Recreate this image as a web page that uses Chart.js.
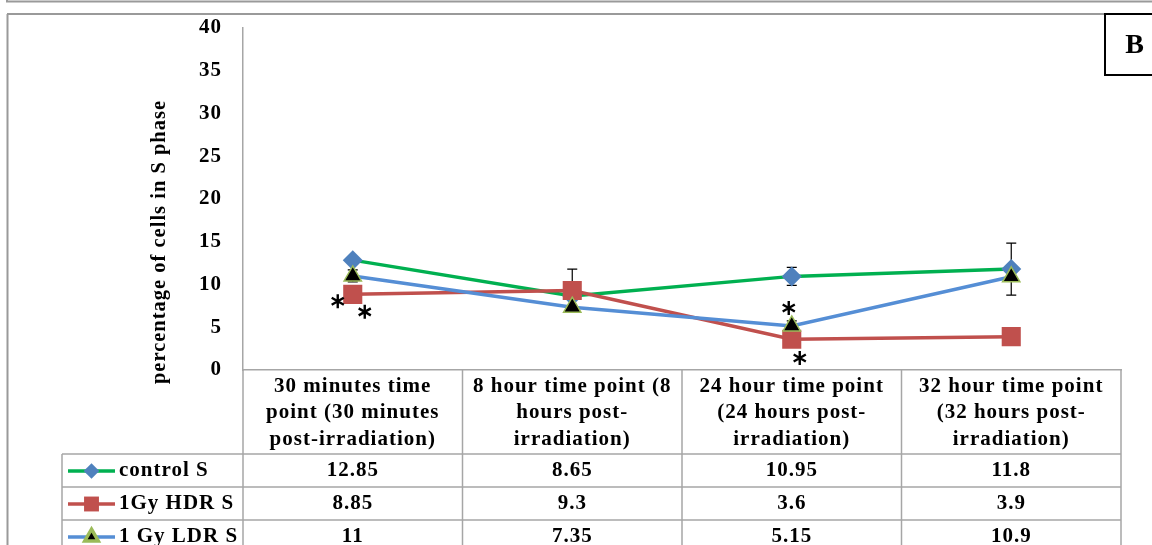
<!DOCTYPE html>
<html>
<head>
<meta charset="utf-8">
<script src="https://cdn.jsdelivr.net/npm/chart.js@4/dist/chart.umd.min.js"></script>
<style>
  html, body { margin: 0; padding: 0; background: #ffffff; }
  canvas { display: block; }
</style>
</head>
<body>
<canvas id="chart" width="1152" height="545"></canvas>
<script>
// Time points (multi-line category labels)
const categories = [
  ['30 minutes time', 'point (30 minutes', 'post-irradiation)'],
  ['8 hour time point (8', 'hours post-', 'irradiation)'],
  ['24 hour time point', '(24 hours post-', 'irradiation)'],
  ['32 hour time point', '(32 hours post-', 'irradiation)']
];

// Series names and values (% of cells in S phase)
const seriesNames = ['control S', '1Gy HDR S', '1 Gy LDR S'];
const controlS = [12.85, 8.65, 10.95, 11.8];
const hdrS = [8.85, 9.3, 3.6, 3.9];
const ldrS = [11, 7.35, 5.15, 10.9];

// Error bar half-widths (0 = none shown)
const controlErr = [0, 0, 1.05, 3.05];
const hdrErr = [0, 2.5, 0, 0];
const ldrErr = [0.7, 0, 0.6, 0];

// Y axis range
const yMin = 0;
const yMax = 40;
const yStep = 5;

// Significance asterisks: category index, value level, horizontal nudge
const sigCats = [0, 0, 2, 2];
const sigValues = [8.05, 6.8, 7.25, 1.4];
const sigNudge = [-15, 12, -3, 8];

const yTitle = 'percentage of cells in S phase';
const panelLabel = 'B';

const SERIF = '"Liberation Serif", "Times New Roman", serif';
const GRID = '#a6a6a6';
const SPACING = '1px';

const seriesStyle = [
  { line: '#00b050', fill: '#4f81bd', border: '#4f81bd', shape: 'rectRot', r: 10, bw: 0 },
  { line: '#c0504d', fill: '#c0504d', border: '#c0504d', shape: 'rect', r: 13.5, bw: 0 },
  { line: '#558ed5', fill: '#000000', border: '#9bbb59', shape: 'triangle', r: 10, bw: 1.5 }
];
const seriesValues = [controlS, hdrS, ldrS];
const seriesErrors = [controlErr, hdrErr, ldrErr];

const datasets = seriesNames.map((name, i) => ({
  label: name,
  data: seriesValues[i],
  errors: seriesErrors[i],
  borderColor: seriesStyle[i].line,
  backgroundColor: seriesStyle[i].fill,
  borderWidth: 3.5,
  tension: 0,
  pointStyle: seriesStyle[i].shape,
  pointRadius: seriesStyle[i].r,
  pointHoverRadius: seriesStyle[i].r,
  pointBackgroundColor: seriesStyle[i].fill,
  pointBorderColor: seriesStyle[i].border,
  pointBorderWidth: seriesStyle[i].bw,
  order: seriesNames.length - i
}));

// Slightly tracked text, as in the printed figure
const tracking = {
  id: 'tracking',
  beforeDraw(chart) { chart.ctx.letterSpacing = SPACING; }
};

// Error bars, drawn under the markers
const errorBars = {
  id: 'errorBars',
  beforeDatasetsDraw(chart) {
    const { ctx, scales: { x, y } } = chart;
    ctx.save();
    ctx.strokeStyle = '#000000';
    ctx.lineWidth = 1.2;
    chart.data.datasets.forEach(ds => {
      ds.data.forEach((v, j) => {
        const e = ds.errors[j];
        if (!e) return;
        const px = x.getPixelForValue(j);
        const top = y.getPixelForValue(v + e);
        const bot = y.getPixelForValue(v - e);
        ctx.beginPath();
        ctx.moveTo(px, top); ctx.lineTo(px, bot);
        ctx.moveTo(px - 5, top); ctx.lineTo(px + 5, top);
        ctx.moveTo(px - 5, bot); ctx.lineTo(px + 5, bot);
        ctx.stroke();
      });
    });
    ctx.restore();
  }
};

function drawMarker(ctx, style, cx, cy, scale) {
  Chart.helpers.drawPoint(ctx, {
    pointStyle: style.shape,
    radius: style.r * scale,
    borderWidth: style.bw
  }, cx, cy);
}

// Frame, title, asterisks, panel letter and the data table
const decorations = {
  id: 'decorations',
  afterDraw(chart) {
    const { ctx, chartArea, scales: { x, y } } = chart;
    ctx.save();
    ctx.letterSpacing = SPACING;

    // panel frame
    ctx.strokeStyle = '#9a9a9a';
    ctx.lineWidth = 2;
    ctx.beginPath();
    ctx.moveTo(7, 1.5); ctx.lineTo(1152, 1.5);
    ctx.moveTo(7, 0); ctx.lineTo(7, 2.5);
    ctx.moveTo(7, 14); ctx.lineTo(1152, 14);
    ctx.moveTo(7.5, 14); ctx.lineTo(7.5, 545);
    ctx.stroke();

    // panel letter box
    ctx.fillStyle = '#ffffff';
    ctx.fillRect(1104, 13, 60, 62);
    ctx.strokeStyle = '#000000';
    ctx.lineWidth = 2;
    ctx.strokeRect(1105, 14, 60, 61);
    ctx.fillStyle = '#000000';
    ctx.font = 'bold 28px ' + SERIF;
    ctx.textAlign = 'center';
    ctx.textBaseline = 'middle';
    ctx.fillText(panelLabel, 1135, 46);

    // y axis title
    ctx.save();
    ctx.translate(160, 242);
    ctx.rotate(-Math.PI / 2);
    ctx.font = 'bold 20.5px ' + SERIF;
    ctx.fillText(yTitle, 0, 0);
    ctx.restore();

    // significance asterisks
    ctx.strokeStyle = '#000000';
    ctx.lineWidth = 2.4;
    sigCats.forEach((c, k) => {
      const cx = x.getPixelForValue(c) + sigNudge[k];
      const cy = y.getPixelForValue(sigValues[k]);
      ctx.beginPath();
      for (let a = 0; a < 3; a++) {
        const ang = Math.PI / 2 + a * Math.PI / 3;
        const dx = Math.cos(ang) * 7, dy = Math.sin(ang) * 7;
        ctx.moveTo(cx - dx, cy - dy); ctx.lineTo(cx + dx, cy + dy);
      }
      ctx.stroke();
    });

    // data table grid
    const colW = (chartArea.right - chartArea.left) / categories.length;
    const tableLeft = 62;
    const headBottom = 454;
    const rowH = 33;
    ctx.strokeStyle = GRID;
    ctx.lineWidth = 1.5;
    ctx.beginPath();
    for (let k = 0; k <= categories.length; k++) {
      const gx = chartArea.left + k * colW;
      ctx.moveTo(gx, chartArea.bottom); ctx.lineTo(gx, 545);
    }
    ctx.moveTo(tableLeft, headBottom); ctx.lineTo(tableLeft, 545);
    for (let r = 0; r < seriesNames.length; r++) {
      const gy = headBottom + r * rowH;
      ctx.moveTo(tableLeft, gy); ctx.lineTo(chartArea.right, gy);
    }
    ctx.stroke();

    // table rows: legend key, name and values
    ctx.textBaseline = 'middle';
    seriesNames.forEach((name, i) => {
      const cy = headBottom + i * rowH + rowH / 2 + 0.5;
      const st = seriesStyle[i];
      ctx.strokeStyle = st.line;
      ctx.lineWidth = 3.5;
      ctx.beginPath();
      ctx.moveTo(68, cy); ctx.lineTo(115, cy);
      ctx.stroke();
      ctx.fillStyle = st.fill;
      ctx.strokeStyle = st.border;
      drawMarker(ctx, st, 91.5, cy, 0.78);
      ctx.fillStyle = '#000000';
      ctx.font = 'bold 21px ' + SERIF;
      ctx.textAlign = 'left';
      ctx.fillText(name, 119, cy);
      ctx.textAlign = 'center';
      seriesValues[i].forEach((v, j) => {
        ctx.fillText(String(v), x.getPixelForValue(j), cy);
      });
    });
    ctx.restore();
  }
};

new Chart(document.getElementById('chart'), {
  type: 'line',
  data: { labels: categories, datasets },
  options: {
    responsive: false,
    devicePixelRatio: 1,
    animation: false,
    events: [],
    layout: { padding: { top: 28, right: 31, bottom: 0, left: 0 } },
    plugins: { legend: { display: false }, tooltip: { enabled: false } },
    scales: {
      x: {
        type: 'category',
        offset: true,
        grid: { display: false, drawTicks: false },
        border: { display: true, color: GRID, width: 1.5 },
        ticks: {
          color: '#000000',
          font: { family: SERIF, size: 21, weight: 'bold', lineHeight: 1.24 },
          padding: 4,
          maxRotation: 0,
          autoSkip: false
        },
        afterFit(scale) { scale.height = 175; }
      },
      y: {
        min: yMin,
        max: yMax,
        grid: { display: false, drawTicks: false },
        border: { display: true, color: GRID, width: 1.5 },
        ticks: {
          stepSize: yStep,
          color: '#000000',
          font: { family: SERIF, size: 21, weight: 'bold' },
          padding: 21
        },
        afterFit(scale) {
          scale.width = 243;
          scale.paddingTop = 0;
          scale.paddingBottom = 0;
        }
      }
    }
  },
  plugins: [tracking, errorBars, decorations]
});
</script>
</body>
</html>
